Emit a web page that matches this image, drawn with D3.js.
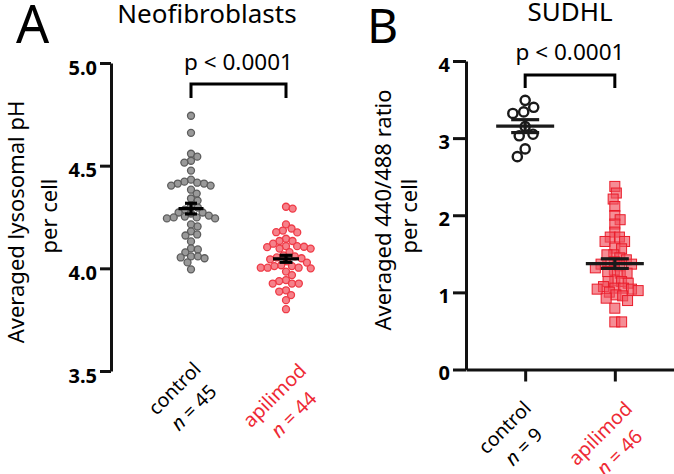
<!DOCTYPE html>
<html><head><meta charset="utf-8">
<script src="https://cdn.jsdelivr.net/npm/d3@7"></script>
<style>body{margin:0;background:#fff} svg{display:block} text{font-family:"Noto Sans",sans-serif}</style>
</head><body><svg id="c" width="674" height="474"></svg>
<script>
// ---------- data ----------
const panelLetters = ["A", "B"];
const panelTitles = ["Neofibroblasts", "SUDHL"];
const pLabel = "p < 0.0001";

const neoCategories = ["control", "apilimod"];
const neoN = ["45", "44"];
const neoTicks = [3.5, 4.0, 4.5, 5.0];
const neoYLabel = ["Averaged lysosomal pH", "per cell"];
const neoControl = [4.743, 4.660, 4.558, 4.544, 4.524, 4.515, 4.476, 4.432, 4.422, 4.417, 4.413, 4.413,
  4.403, 4.403, 4.383, 4.364, 4.340, 4.330, 4.301, 4.296, 4.286, 4.272, 4.272, 4.267, 4.257, 4.252,
  4.248, 4.248, 4.243, 4.243, 4.214, 4.204, 4.180, 4.165, 4.160, 4.131, 4.097, 4.092, 4.078, 4.058,
  4.058, 4.053, 4.049, 4.029, 3.995];
const neoApilimod = [4.300, 4.291, 4.214, 4.194, 4.184, 4.176, 4.175, 4.144, 4.133, 4.133, 4.105, 4.120,
  4.108, 4.103, 4.108, 4.096, 4.096, 4.079, 4.063, 4.058, 4.053, 4.049, 4.044, 4.034, 4.015, 4.000,
  4.003, 4.003, 4.003, 4.011, 4.011, 4.028, 3.984, 3.967, 3.926, 3.926, 3.926, 3.938, 3.943, 3.870,
  3.887, 3.893, 3.845, 3.801];

const sudCategories = ["control", "apilimod"];
const sudN = ["9", "46"];
const sudTicks = [0, 1, 2, 3, 4];
const sudYLabel = ["Averaged 440/488 ratio", "per cell"];
const sudControl = [3.49, 3.32, 3.34, 3.40, 3.05, 3.15, 3.03, 2.86, 2.76];
const sudApilimod = [2.374, 2.288, 2.210, 2.114, 1.997, 1.942, 1.886, 1.782, 1.717, 1.717, 1.660, 1.660,
  1.574, 1.565, 1.487, 1.487, 1.448, 1.422, 1.396, 1.370, 1.344, 1.318, 1.366, 1.366, 1.292, 1.249,
  1.249, 1.270, 1.140, 1.149, 1.119, 1.140, 1.023, 1.042, 1.055, 1.042, 1.055, 1.075, 1.003, 0.968,
  0.925, 0.955, 0.894, 0.795, 0.617, 0.617];

const labelColors = ["#000000", "#ee2a35"];

// ---------- helpers ----------
const svg = d3.select("#c");

function swarm(values, y, d) {
  const pts = values.map((v, i) => ({v, y: y(v), i})).sort((a, b) => a.y - b.y);
  const placed = [];
  let flip = 1;
  for (const p of pts) {
    const near = placed.filter(q => Math.abs(q.y - p.y) < d);
    const cands = [0];
    for (const q of near) {
      const dx = Math.sqrt(d * d - (q.y - p.y) ** 2);
      cands.push(q.x - dx, q.x + dx);
    }
    cands.sort((a, b) => (Math.abs(a) - Math.abs(b)) || (flip * (a - b)));
    for (const c of cands) {
      if (near.every(q => (q.x - c) ** 2 + (q.y - p.y) ** 2 >= d * d - 1e-6)) { p.x = c; break; }
    }
    flip = -flip;
    placed.push(p);
  }
  return pts;
}

function meanSem(g, values, cx, y, wMean, wCap, color) {
  const m = d3.mean(values), s = d3.deviation(values) / Math.sqrt(values.length);
  g.append("line").attr("x1", cx).attr("x2", cx).attr("y1", y(m - s)).attr("y2", y(m + s));
  g.append("line").attr("x1", cx - wCap / 2).attr("x2", cx + wCap / 2).attr("y1", y(m + s)).attr("y2", y(m + s));
  g.append("line").attr("x1", cx - wCap / 2).attr("x2", cx + wCap / 2).attr("y1", y(m - s)).attr("y2", y(m - s));
  g.append("line").attr("x1", cx - wMean / 2).attr("x2", cx + wMean / 2).attr("y1", y(m)).attr("y2", y(m));
  g.selectAll("line").attr("stroke", color).attr("stroke-width", 3.2);
}

function catLabel(cx, cy, name, n, color, size) {
  const g = svg.append("g").attr("transform", `translate(${cx},${cy}) rotate(-45)`)
    .attr("fill", color).attr("font-size", size).attr("text-anchor", "middle");
  g.append("text").attr("y", -13.5).attr("dy", "0.35em").text(name);
  const t = g.append("text").attr("y", 13.5).attr("dy", "0.35em");
  t.append("tspan").attr("font-style", "italic").text("n");
  t.append("tspan").text(" = " + n);
}

function yLabel(x1, c1, x2, c2, lines) {
  svg.append("text").attr("transform", `translate(${x1},${c1}) rotate(-90)`)
    .attr("text-anchor", "middle").attr("font-size", 22).text(lines[0]);
  svg.append("text").attr("transform", `translate(${x2},${c2}) rotate(-90)`)
    .attr("text-anchor", "middle").attr("font-size", 22).text(lines[1]);
}

function bracket(x1, x2, yTop, yBot, ptxtY) {
  svg.append("path").attr("d", `M${x1},${yBot}V${yTop}H${x2}V${yBot}`)
    .attr("fill", "none").attr("stroke", "#000").attr("stroke-width", 3);
  svg.append("text").attr("x", (x1 + x2) / 2).attr("y", ptxtY).attr("text-anchor", "middle")
    .attr("font-size", 22.5).text(pLabel);
}

function styleAxis(g) {
  g.select(".domain").attr("stroke-width", 3).attr("stroke", "#111");
  g.selectAll(".tick line").attr("stroke-width", 3).attr("stroke", "#111");
}

// ---------- Panel A ----------
svg.append("text").attr("x", 16).attr("y", 43).attr("font-size", 52).text(panelLetters[0]);
svg.append("text").attr("x", 207).attr("y", 23).attr("text-anchor", "middle").attr("font-size", 26).text(panelTitles[0]);

const yA = d3.scaleLinear().domain([3.5, 5.0]).range([371, 63]);
const xA = d3.scalePoint().domain(neoCategories).range([191, 286]);

const axA = svg.append("g").attr("transform", "translate(111,0)")
  .call(d3.axisLeft(yA).tickValues(neoTicks).tickFormat(d3.format(".1f")).tickSize(11).tickSizeOuter(0).tickPadding(3));
styleAxis(axA);
axA.selectAll(".tick text").attr("font-size", 20).attr("font-weight", "bold").attr("fill", "#000")
  .attr("font-family", "'Noto Sans',sans-serif").attr("dy", "0.55em");

yLabel(24, 222, 57, 216, neoYLabel);

const ptsA1 = swarm(neoControl, yA, 6.9);
svg.append("g").selectAll("circle").data(ptsA1).join("circle")
  .attr("cx", d => xA("control") + d.x).attr("cy", d => d.y).attr("r", 3.5)
  .attr("fill", "#8e8e8e").attr("stroke", "#5c5c5c").attr("stroke-width", 1.3).attr("fill-opacity", 0.9);
const ptsA2 = swarm(neoApilimod, yA, 6.9);
svg.append("g").selectAll("circle").data(ptsA2).join("circle")
  .attr("cx", d => xA("apilimod") + d.x).attr("cy", d => d.y).attr("r", 3.5)
  .attr("fill", "#f36b75").attr("stroke", "#ef3a46").attr("stroke-width", 1.3).attr("fill-opacity", 0.85);

meanSem(svg.append("g"), neoControl, xA("control"), yA, 25, 12, "#000");
meanSem(svg.append("g"), neoApilimod, xA("apilimod"), yA, 26, 13, "#000");

bracket(xA("control"), xA("apilimod"), 84, 98, 70);

catLabel(xA("control") - 7, 398, neoCategories[0], neoN[0], labelColors[0], 19.5);
catLabel(xA("apilimod") - 2, 405, neoCategories[1], neoN[1], labelColors[1], 19.5);

// ---------- Panel B ----------
svg.append("text").attr("x", 367).attr("y", 43).attr("font-size", 48).text(panelLetters[1]);
svg.append("text").attr("x", 570).attr("y", 21).attr("text-anchor", "middle").attr("font-size", 26).text(panelTitles[1]);

const yB = d3.scaleLinear().domain([0, 4]).range([369.5, 61]);
const xB = d3.scalePoint().domain(sudCategories).range([466, 674]).padding(0.66);

const axB = svg.append("g").attr("transform", "translate(466,0)")
  .call(d3.axisLeft(yB).tickValues(sudTicks).tickFormat(d3.format("d")).tickSize(13).tickSizeOuter(0).tickPadding(3));
styleAxis(axB);
axB.selectAll(".tick text").attr("font-size", 20).attr("font-weight", "bold").attr("fill", "#000")
  .attr("font-family", "'Noto Sans',sans-serif").attr("dy", "0.5em");

const axBx = svg.append("g").attr("transform", `translate(0,${yB(0)})`)
  .call(d3.axisBottom(xB).tickSize(12).tickSizeOuter(0).tickFormat(""));
styleAxis(axBx);

yLabel(391, 210, 417, 216, sudYLabel);

const ptsB1 = swarm(sudControl, yB, 11);
svg.append("g").selectAll("circle").data(ptsB1).join("circle")
  .attr("cx", d => xB("control") + d.x).attr("cy", d => d.y).attr("r", 4.6)
  .attr("fill", "none").attr("stroke", "#1a1a1a").attr("stroke-width", 2.4);

const ptsB2 = swarm(sudApilimod, yB, 6.8);
svg.append("g").selectAll("rect").data(ptsB2).join("rect")
  .attr("x", d => xB("apilimod") + d.x - 5).attr("y", d => d.y - 5).attr("width", 10).attr("height", 10)
  .attr("fill", "#f0505c").attr("fill-opacity", 0.65).attr("stroke", "#ea1c2a").attr("stroke-width", 1);

meanSem(svg.append("g"), sudControl, xB("control"), yB, 58, 28, "#1a1a1a");
meanSem(svg.append("g"), sudApilimod, xB("apilimod"), yB, 58, 28, "#1a1a1a");

bracket(xB("control"), xB("apilimod"), 75, 88, 60);

catLabel(xB("control") - 11, 437, sudCategories[0], sudN[0], labelColors[0], 19.5);
catLabel(xB("apilimod") - 5, 443, sudCategories[1], sudN[1], labelColors[1], 19.5);
</script></body></html>
